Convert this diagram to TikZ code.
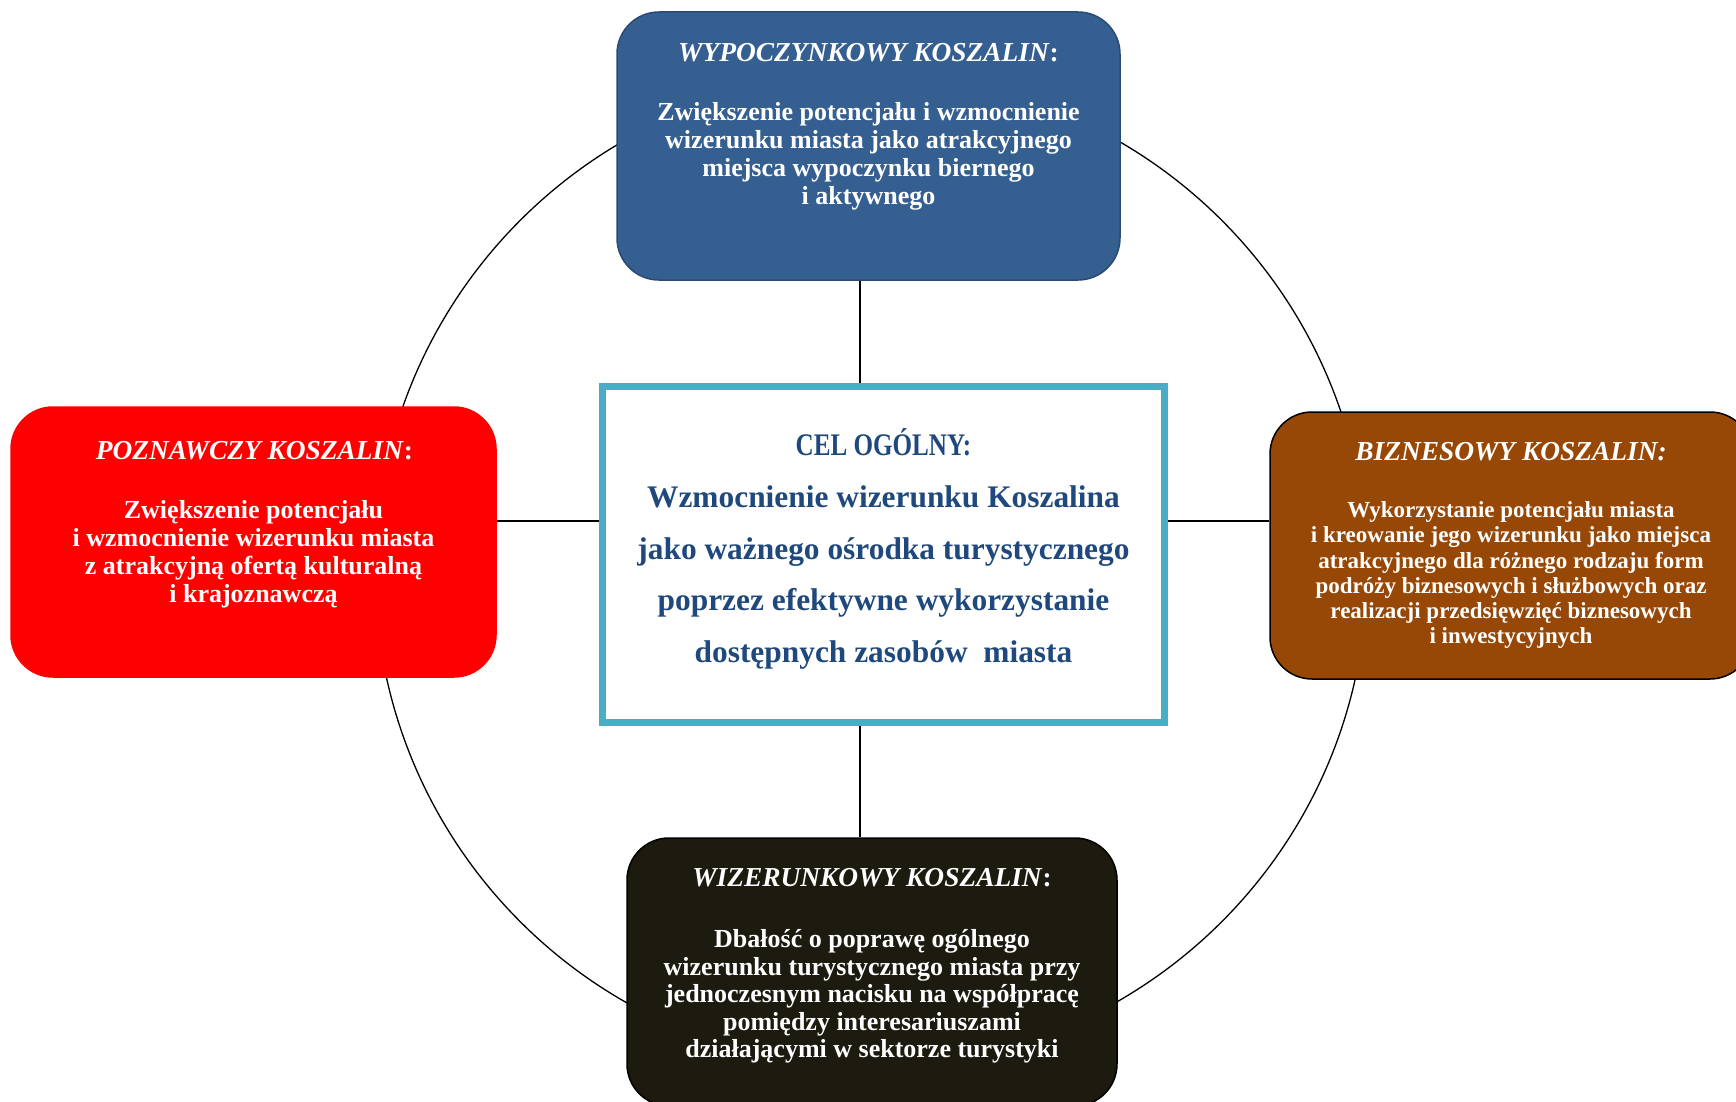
\documentclass[tikz,border=0pt]{standalone}
\usepackage{fontspec}
\setmainfont{Liberation Serif}
\usetikzlibrary{positioning}

\definecolor{wypoczblue}{HTML}{365F91}
\definecolor{wypoczline}{HTML}{2A4A75}
\definecolor{biznesbrown}{HTML}{974806}
\definecolor{wizerblack}{HTML}{1D1B10}
\definecolor{celframe}{HTML}{4BACC6}
\definecolor{celtext}{HTML}{1F497D}

\tikzset{every picture/.style={line width=0.75pt}}
\tikzset{
  kafel/.style={rounded corners=21pt, inner sep=0pt, line width=0.75pt},
  laczn/.style={line width=0.85pt, black},
  tytul/.style={text=white, inner sep=0pt, font=\fontsize{13.7}{16}\selectfont\bfseries},
  opis/.style={text=white, inner sep=0pt, anchor=north, align=center, font=\fontsize{13}{14}\selectfont\bfseries},
  celbox/.style={draw=celframe, fill=white, line width=3.5pt, inner sep=0pt},
  celopis/.style={inner sep=0pt, align=center, text=celtext, font=\fontsize{15.7}{25.8}\selectfont\bfseries}
}

\begin{document}
\begin{tikzpicture}[x=0.5pt,y=0.5pt,yscale=-1,xscale=1]
\useasboundingbox (0,0) rectangle (1736,1102);

%Shape: Circle
\draw [line width=0.65pt] (871,571) circle [radius=248pt];

%Shape: Rounded Rect (top)
\node [kafel, draw=wypoczline, fill=wypoczblue, minimum width=251.5pt, minimum height=134pt] (wypocz) at (868.5,146) {};
%Shape: Rounded Rect (left)
\node [kafel, draw=red, fill=red, minimum width=242.5pt, minimum height=135pt] (poznaw) at (253.5,542) {};
%Shape: Rounded Rect (right)
\node [kafel, draw=black, fill=biznesbrown, minimum width=241pt, minimum height=133.5pt] (biznes) at (1511,545.5) {};
%Shape: Rounded Rect (bottom)
\node [kafel, draw=black, fill=wizerblack, minimum width=245pt, minimum height=134pt] (wizer) at (872,972) {};
%Shape: Rectangle (centre)
\node [celbox, minimum width=281pt, minimum height=168pt] (cel) at (883.5,554.5) {};

%Straight Lines
\coordinate (os) at (860,520.7);
\draw [laczn] (wypocz.south -| os) -- (cel.north -| os);
\draw [laczn] (cel.south -| os) -- (wizer.north -| os);
\draw [laczn] (poznaw.east |- os) -- (cel.west |- os);
\draw [laczn] (cel.east |- os) -- (biznes.west |- os);

% Text Node
\node [celopis] (celtyt) at (883.5,549) {\scalebox{0.8}[1]{CEL OGÓLNY:}\\
   Wzmocnienie wizerunku Koszalina\\
   jako ważnego ośrodka turystycznego\\
   poprzez efektywne wykorzystanie\\
   dostępnych zasobów\ \ miasta};
% Text Node
\node [tytul] (wypocztyt) at (868.5,53) {\textit{WYPOCZYNKOWY KOSZALIN}:};
% Text Node
\node [opis] (wypoczopis) at (868.5,102) {Zwiększenie potencjału i wzmocnienie\\
  wizerunku miasta jako atrakcyjnego\\
  miejsca wypoczynku biernego\\
  i aktywnego};
% Text Node
\node [tytul] (poznawtyt) at (254.5,451) {\textit{POZNAWCZY KOSZALIN}:};
% Text Node
\node [opis] (poznawopis) at (253.5,500) {Zwiększenie potencjału\\
  i wzmocnienie wizerunku miasta\\
  z atrakcyjną ofertą kulturalną\\
  i krajoznawczą};
% Text Node
\node [tytul] (bizneso) at (1511,452) {\textit{BIZNESOWY KOSZALIN:}};
% Text Node
\node [opis, font=\fontsize{11.5}{12.6}\selectfont\bfseries] (biznesopis) at (1511,501) {Wykorzystanie potencjału miasta\\
  i kreowanie jego wizerunku jako miejsca\\
  atrakcyjnego dla różnego rodzaju form\\
  podróży biznesowych i służbowych oraz\\
  realizacji przedsięwzięć biznesowych\\
  i inwestycyjnych};
% Text Node
\node [tytul] (wizertyt) at (872,878) {\textit{WIZERUNKOWY KOSZALIN}:};
% Text Node
\node [opis, font=\fontsize{13}{13.75}\selectfont\bfseries] (wizeropis) at (872,929) {Dbałość o poprawę ogólnego\\
  wizerunku turystycznego miasta przy\\
  jednoczesnym nacisku na współpracę\\
  pomiędzy interesariuszami\\
  działającymi w sektorze turystyki};

\end{tikzpicture}
\end{document}
